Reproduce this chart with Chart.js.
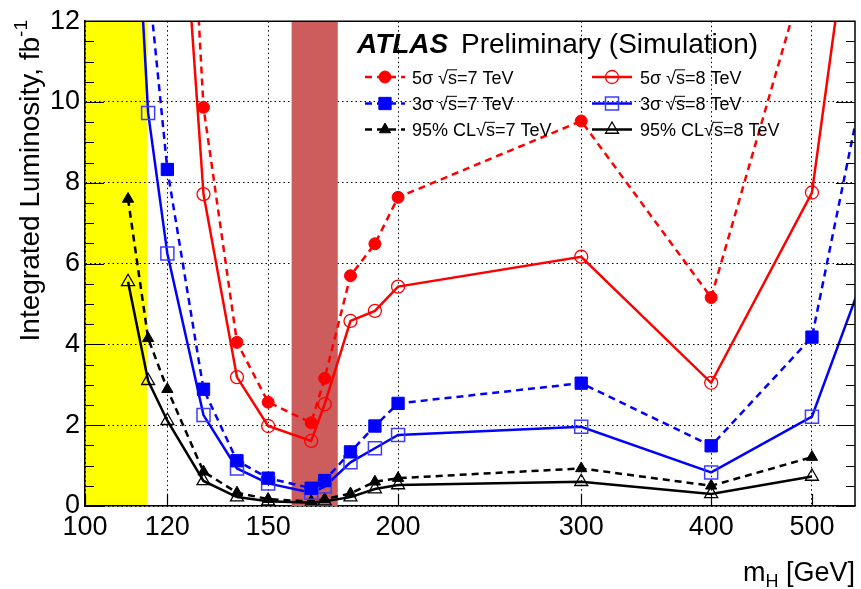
<!DOCTYPE html>
<html>
<head>
<meta charset="utf-8">
<script src="https://cdn.jsdelivr.net/npm/chart.js@4.4.1/dist/chart.umd.min.js"></script>
<style>
  html, body { margin: 0; padding: 0; background: #fff; }
</style>
</head>
<body>
<canvas id="lumiChart" width="861" height="589"></canvas>
<script>
const FONT = "'Liberation Sans', Arial, Helvetica, sans-serif";

// Higgs masses (GeV) where the curves are evaluated
const masses = [110, 115, 120, 130, 140, 150, 165, 170, 180, 190, 200, 300, 400, 500, 600];

// Integrated luminosity (fb^-1) needed, null = no point
const disc5s7TeV = [null, null, 26.3, 9.87, 4.05, 2.57, 2.06, 3.16, 5.70, 6.49, 7.64, 9.53, 5.16, 13.8, null];
const disc5s8TeV = [null, null, 20.6, 7.72, 3.19, 1.98, 1.61, 2.52, 4.58, 4.83, 5.43, 6.17, 3.05, 7.76, 22.7];
const evid3s7TeV = [null, 13.1, 8.33, 2.89, 1.12, 0.69, 0.44, 0.63, 1.34, 1.98, 2.54, 3.04, 1.49, 4.18, 14.2];
const evid3s8TeV = [18.8, 9.73, 6.25, 2.25, 0.93, 0.56, 0.33, 0.48, 1.08, 1.43, 1.76, 1.96, 0.83, 2.21, 7.75];
const excl95_7TeV = [7.6, 4.15, 2.89, 0.85, 0.33, 0.17, 0.11, 0.17, 0.31, 0.60, 0.69, 0.93, 0.50, 1.21, null];
const excl95_8TeV = [5.55, 3.10, 2.11, 0.62, 0.22, 0.12, 0.08, 0.12, 0.22, 0.42, 0.52, 0.60, 0.30, 0.73, null];

// Axis ticks and excluded regions
const xTickValues = [100, 120, 150, 200, 300, 400, 500];
const xRange = [100, 550];
const yRange = [0, 12];
const lepBand = [100, 114.7];
const tevatronBand = [158, 175];

// Construção de um dataset
function makeDataset(label, vals, color, dashed, style, filled, radius, pbw) {
  return {
    label: label,
    data: masses.map((m, i) => ({ x: m, y: vals[i] })).filter(p => p.y !== null),
    showLine: true,
    borderColor: color,
    borderWidth: 2.5,
    borderDash: dashed ? [7, 5] : [],
    pointStyle: style,
    pointRadius: radius,
    pointHoverRadius: radius,
    pointBorderWidth: pbw,
    pointBorderColor: color,
    pointBackgroundColor: filled ? color : 'rgba(0,0,0,0)',
    fill: false,
    tension: 0
  };
}

const datasets = [
  makeDataset('5σ', disc5s7TeV, '#ff0000', true, 'circle', true, 6, 1),
  makeDataset('5σ', disc5s8TeV, '#ff0000', false, 'circle', false, 6.5, 1.3),
  makeDataset('3σ', evid3s7TeV, '#0000ff', true, 'rect', true, 8.7, 1),
  makeDataset('3σ', evid3s8TeV, '#3d3dff', false, 'rect', false, 9.2, 1.5),
  makeDataset('95% CL', excl95_7TeV, '#000000', true, 'triangle', true, 6.5, 1),
  makeDataset('95% CL', excl95_8TeV, '#000000', false, 'triangle', false, 7.5, 1.3)
];
// a linha azul continua azul puro, só o marcador aberto é mais claro
datasets[3].borderColor = '#0000ff';

// Regiões excluídas (LEP e Tevatron)
const bandsPlugin = {
  id: 'bands',
  beforeDraw(chart) {
    const { ctx, chartArea: a, scales: { x } } = chart;
    const x0 = x.getPixelForValue(lepBand[0]);
    const x1 = x.getPixelForValue(lepBand[1]);
    ctx.save();
    ctx.fillStyle = '#ffff00';
    ctx.fillRect(x0, a.top, x1 - x0, a.bottom - a.top);
    ctx.restore();
  },
  beforeDatasetsDraw(chart) {
    const { ctx, chartArea: a, scales: { x } } = chart;
    const x0 = x.getPixelForValue(tevatronBand[0]);
    const x1 = x.getPixelForValue(tevatronBand[1]);
    ctx.save();
    ctx.fillStyle = 'rgb(205,92,92)';
    ctx.fillRect(x0, a.top, x1 - x0, a.bottom - a.top);
    ctx.restore();
  }
};

// Moldura e marcas dos eixos (estilo ROOT)
const framePlugin = {
  id: 'frame',
  afterDraw(chart) {
    const { ctx, chartArea: a, scales: { x, y } } = chart;
    ctx.save();
    ctx.strokeStyle = '#000';
    ctx.lineWidth = 1.5;
    ctx.beginPath();
    ctx.moveTo(a.left, a.top); ctx.lineTo(a.right, a.top); ctx.lineTo(a.right, a.bottom);
    ctx.stroke();
    ctx.lineWidth = 1.2;
    ctx.beginPath();
    for (let v = yRange[0]; v <= yRange[1] + 1e-6; v += 0.5) {
      const py = Math.round(y.getPixelForValue(v)) + 0.5;
      const len = (v % 2 === 0) ? 19 : 9;
      ctx.moveTo(a.left, py); ctx.lineTo(a.left + len, py);
      ctx.moveTo(a.right, py); ctx.lineTo(a.right - len, py);
    }
    xTickValues.forEach(v => {
      const px = Math.round(x.getPixelForValue(v)) + 0.5;
      ctx.moveTo(px, a.bottom); ctx.lineTo(px, a.bottom - 12);
    });
    ctx.stroke();
    ctx.restore();
  }
};

function drawMarker(ctx, style, cx, cy, r, filled, color, lw) {
  ctx.beginPath();
  if (style === 'circle') {
    ctx.arc(cx, cy, r, 0, Math.PI * 2);
  } else if (style === 'rect') {
    const s = r * Math.SQRT1_2;
    ctx.rect(cx - s, cy - s, 2 * s, 2 * s);
  } else {
    ctx.moveTo(cx, cy - r);
    ctx.lineTo(cx + r * 0.866, cy + r / 2);
    ctx.lineTo(cx - r * 0.866, cy + r / 2);
    ctx.closePath();
  }
  if (filled) { ctx.fillStyle = color; ctx.fill(); }
  ctx.lineWidth = lw;
  ctx.strokeStyle = color;
  ctx.stroke();
}

// texto com raiz: pre + √s + post
function drawSqrtText(ctx, x, y, pre, post, size) {
  ctx.fillText(pre, x, y);
  let cx = x + ctx.measureText(pre).width;
  ctx.fillText('√', cx, y);
  cx += ctx.measureText('√').width;
  const sw = ctx.measureText('s').width;
  ctx.fillText('s', cx, y);
  ctx.beginPath();
  ctx.lineWidth = 1;
  ctx.strokeStyle = '#000';
  ctx.moveTo(cx - 1, y - size * 0.76);
  ctx.lineTo(cx + sw, y - size * 0.76);
  ctx.stroke();
  ctx.fillText(post, cx + sw, y);
}

// Título, legenda e títulos dos eixos
const textPlugin = {
  id: 'texts',
  afterDraw(chart) {
    const ctx = chart.ctx;
    ctx.save();
    ctx.fillStyle = '#000';
    ctx.textBaseline = 'alphabetic';
    ctx.textAlign = 'left';

    // título
    ctx.font = `italic bold 28px ${FONT}`;
    ctx.fillText('ATLAS', 357, 53);
    ctx.font = `28px ${FONT}`;
    ctx.fillText('Preliminary (Simulation)', 461, 53);

    // legenda em duas colunas
    const rows = [77, 103.5, 129.5];
    const cols = [{ x0: 365, mark: 385, text: 412, energy: '7', idx: [0, 2, 4] },
                  { x0: 592, mark: 612, text: 640, energy: '8', idx: [1, 3, 5] }];
    cols.forEach(col => {
      col.idx.forEach((di, r) => {
        const d = chart.data.datasets[di];
        const yy = rows[r];
        ctx.save();
        ctx.strokeStyle = d.borderColor;
        ctx.lineWidth = d.borderWidth;
        ctx.setLineDash(d.borderDash);
        ctx.beginPath();
        ctx.moveTo(col.x0, yy); ctx.lineTo(col.x0 + 40, yy);
        ctx.stroke();
        ctx.setLineDash([]);
        drawMarker(ctx, d.pointStyle, col.mark, yy, d.pointRadius,
                   d.pointBackgroundColor !== 'rgba(0,0,0,0)', d.pointBorderColor, d.pointBorderWidth);
        ctx.restore();
        ctx.font = `18px ${FONT}`;
        ctx.fillStyle = '#000';
        const pre = d.label === '95% CL' ? '95% CL' : d.label + ' ';
        drawSqrtText(ctx, col.text, yy + 6.5, pre, '=' + col.energy + ' TeV', 18);
      });
    });

    // título do eixo x: m_H [GeV]
    const partA = 'm', partB = 'H', partC = ' [GeV]';
    ctx.font = `27px ${FONT}`;
    const wA = ctx.measureText(partA).width, wC = ctx.measureText(partC).width;
    ctx.font = `18px ${FONT}`;
    const wB = ctx.measureText(partB).width;
    let xx = 855 - wA - wB - wC;
    const by = 581;
    ctx.font = `27px ${FONT}`;
    ctx.fillText(partA, xx, by); xx += wA;
    ctx.font = `18px ${FONT}`;
    ctx.fillText(partB, xx, by + 6); xx += wB;
    ctx.font = `27px ${FONT}`;
    ctx.fillText(partC, xx, by);

    // título do eixo y
    ctx.translate(39, 20);
    ctx.rotate(-Math.PI / 2);
    ctx.textAlign = 'left';
    ctx.font = `19px ${FONT}`;
    const wSup = ctx.measureText('-1').width;
    ctx.font = `28px ${FONT}`;
    const main = 'Integrated Luminosity, fb';
    const wMain = ctx.measureText(main).width;
    ctx.fillText(main, -wMain - wSup, 0);
    ctx.font = `19px ${FONT}`;
    ctx.fillText('-1', -wSup, -12);
    ctx.restore();
  }
};

const chart = new Chart(document.getElementById('lumiChart'), {
  type: 'scatter',
  data: { datasets: datasets },
  options: {
    responsive: false,
    devicePixelRatio: 1,
    animation: false,
    layout: { autoPadding: false, padding: { left: 0, right: 6, top: 21, bottom: 0 } },
    plugins: { legend: { display: false }, tooltip: { enabled: false }, title: { display: false } },
    scales: {
      x: {
        type: 'logarithmic',
        min: xRange[0],
        max: xRange[1],
        afterFit: s => { s.height = 83; },
        afterBuildTicks: s => { s.ticks = xTickValues.map(v => ({ value: v, major: true })); },
        ticks: {
          autoSkip: false,
          maxRotation: 0,
          padding: 5,
          color: '#000',
          font: { family: FONT, size: 27 },
          callback: v => String(v)
        },
        grid: { color: '#000', lineWidth: 1, drawTicks: false },
        border: { display: true, color: '#000', width: 1.5, dash: [1.5, 3] }
      },
      y: {
        type: 'linear',
        min: yRange[0],
        max: yRange[1],
        afterFit: s => { s.width = 85; },
        ticks: {
          stepSize: 2,
          padding: 5,
          color: '#000',
          font: { family: FONT, size: 27 }
        },
        grid: { color: '#000', lineWidth: 1, drawTicks: false },
        border: { display: true, color: '#000', width: 1.5, dash: [1.5, 3] }
      }
    }
  },
  plugins: [bandsPlugin, framePlugin, textPlugin]
});
</script>
</body>
</html>
